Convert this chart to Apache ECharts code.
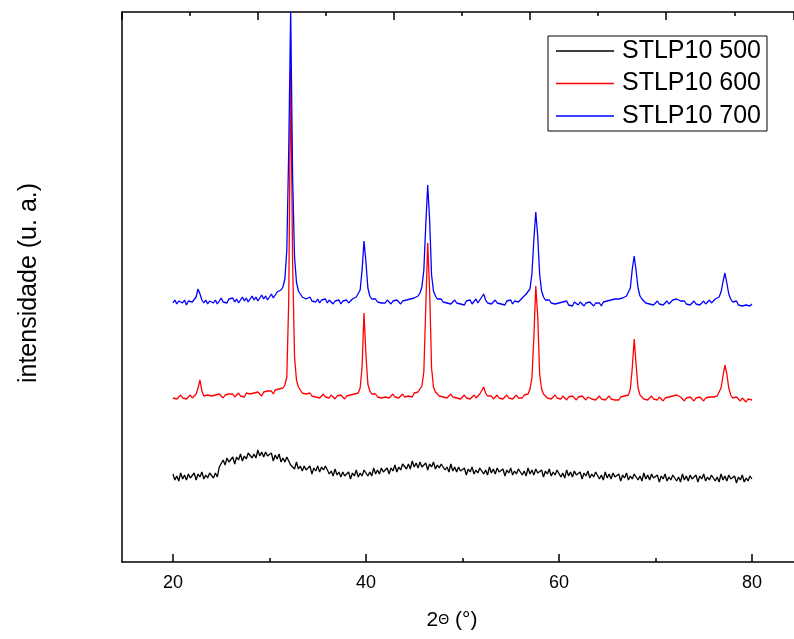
<!DOCTYPE html>
<html>
<head>
<meta charset="utf-8">
<script src="https://cdn.jsdelivr.net/npm/echarts@6/dist/echarts.min.js"></script>
<style>html,body{margin:0;padding:0;background:#fff}#chart{width:794px;height:639px}</style>
</head>
<body>
<div id="chart"></div>
<script>
// 2θ angles (degrees)
const twoTheta = [
20.0,20.2,20.4,20.6,20.8,21.0,21.2,21.4,21.6,21.8,
22.0,22.2,22.4,22.6,22.8,23.0,23.2,23.4,23.6,23.8,
24.0,24.2,24.4,24.6,24.8,25.0,25.2,25.4,25.6,25.8,
26.0,26.2,26.4,26.6,26.8,27.0,27.2,27.4,27.6,27.8,
28.0,28.2,28.4,28.6,28.8,29.0,29.2,29.4,29.6,29.8,
30.0,30.2,30.4,30.6,30.8,31.0,31.2,31.4,31.6,31.8,
32.0,32.2,32.4,32.6,32.8,33.0,33.2,33.4,33.6,33.8,
34.0,34.2,34.4,34.6,34.8,35.0,35.2,35.4,35.6,35.8,
36.0,36.2,36.4,36.6,36.8,37.0,37.2,37.4,37.6,37.8,
38.0,38.2,38.4,38.6,38.8,39.0,39.2,39.4,39.6,39.8,
40.0,40.2,40.4,40.6,40.8,41.0,41.2,41.4,41.6,41.8,
42.0,42.2,42.4,42.6,42.8,43.0,43.2,43.4,43.6,43.8,
44.0,44.2,44.4,44.6,44.8,45.0,45.2,45.4,45.6,45.8,
46.0,46.2,46.4,46.6,46.8,47.0,47.2,47.4,47.6,47.8,
48.0,48.2,48.4,48.6,48.8,49.0,49.2,49.4,49.6,49.8,
50.0,50.2,50.4,50.6,50.8,51.0,51.2,51.4,51.6,51.8,
52.0,52.2,52.4,52.6,52.8,53.0,53.2,53.4,53.6,53.8,
54.0,54.2,54.4,54.6,54.8,55.0,55.2,55.4,55.6,55.8,
56.0,56.2,56.4,56.6,56.8,57.0,57.2,57.4,57.6,57.8,
58.0,58.2,58.4,58.6,58.8,59.0,59.2,59.4,59.6,59.8,
60.0,60.2,60.4,60.6,60.8,61.0,61.2,61.4,61.6,61.8,
62.0,62.2,62.4,62.6,62.8,63.0,63.2,63.4,63.6,63.8,
64.0,64.2,64.4,64.6,64.8,65.0,65.2,65.4,65.6,65.8,
66.0,66.2,66.4,66.6,66.8,67.0,67.2,67.4,67.6,67.8,
68.0,68.2,68.4,68.6,68.8,69.0,69.2,69.4,69.6,69.8,
70.0,70.2,70.4,70.6,70.8,71.0,71.2,71.4,71.6,71.8,
72.0,72.2,72.4,72.6,72.8,73.0,73.2,73.4,73.6,73.8,
74.0,74.2,74.4,74.6,74.8,75.0,75.2,75.4,75.6,75.8,
76.0,76.2,76.4,76.6,76.8,77.0,77.2,77.4,77.6,77.8,
78.0,78.2,78.4,78.6,78.8,79.0,79.2,79.4,79.6,79.8,
80.0];

// STLP10 500 (black)
const int500 = [
88,82,86,81,89,83,87,82,88,84,
84,89,82,88,85,90,83,87,84,89,
90,84,89,85,95,93,102,97,104,100,
99,105,98,105,102,108,101,106,103,109,
109,104,108,104,112,106,110,105,110,106,
104,109,101,107,103,108,100,104,100,105,
104,97,99,93,100,93,96,91,96,92,
91,96,88,94,91,96,90,95,92,96,
95,88,91,86,93,87,90,85,90,86,
85,90,83,89,86,92,85,89,86,92,
92,86,90,86,94,88,92,88,94,90,
89,94,88,94,91,97,90,95,92,98,
99,93,98,93,101,95,99,94,100,95,
94,99,92,98,95,100,93,97,94,98,
98,92,95,90,98,91,95,90,95,91,
89,94,87,93,90,95,88,92,89,94,
94,88,92,87,95,89,93,88,94,90,
88,93,86,92,89,94,87,91,88,93,
93,87,91,86,94,88,92,87,93,89,
87,92,85,91,88,93,86,90,87,92,
91,85,89,84,92,86,90,85,91,87,
85,90,83,89,86,91,84,88,85,90,
89,83,87,82,90,84,88,83,89,85,
83,88,81,87,84,89,82,86,83,88,
88,82,86,81,89,83,87,82,88,84,
82,87,80,86,83,88,81,85,82,87,
87,81,85,80,88,82,86,81,87,83,
82,87,80,86,83,88,81,85,82,87,
87,81,85,80,88,82,86,81,87,83,
81,86,79,85,82,87,80,84,81,86,
83];

// STLP10 600 (red)
const int600 = [
164,166,163,165,167,164,166,163,165,167,
164,166,168,174,182,171,166,164,167,165,
166,164,167,165,168,166,164,167,165,168,
166,168,165,167,169,166,168,165,169,167,
168,166,169,167,170,168,166,170,168,171,
169,171,168,172,170,173,171,174,177,185,
262,495,300,205,182,175,172,169,171,168,
167,169,166,168,165,167,164,166,168,165,
166,164,167,165,163,166,164,167,165,163,
166,164,167,165,168,166,169,174,195,249,
207,178,171,168,166,168,165,167,164,166,
165,167,164,166,168,165,167,164,166,168,
165,167,166,168,165,169,167,170,172,176,
190,255,319,272,194,175,170,168,166,168,
165,167,164,166,168,165,167,164,166,163,
165,167,164,166,163,165,167,164,166,168,
170,175,169,166,164,166,163,165,167,164,
166,163,165,167,164,166,163,165,167,164,
166,164,167,165,168,173,184,224,276,246,
188,173,168,166,164,166,163,165,167,164,
165,163,166,164,162,165,163,166,164,162,
165,163,166,164,162,165,167,163,165,162,
164,166,163,165,162,164,166,163,165,162,
164,162,165,163,166,164,167,173,194,223,
197,174,167,165,163,165,162,164,166,163,
164,162,165,163,161,164,162,165,163,166,
164,167,169,165,163,161,164,162,165,163,
161,164,162,165,163,161,164,162,165,163,
165,163,166,168,174,186,197,188,174,167,
164,162,165,163,161,164,162,160,163,161,
162];

// STLP10 700 (blue)
const int700 = [
259,262,258,261,263,259,262,257,261,263,
260,262,265,273,268,262,259,262,258,261,
263,259,262,258,261,264,260,262,259,263,
261,264,260,263,259,262,265,261,264,260,
263,266,262,265,261,264,267,263,266,262,
265,268,264,267,270,268,272,275,283,312,
412,552,385,305,280,271,268,265,267,263,
262,265,261,263,260,263,259,262,260,263,
259,262,260,258,261,259,262,258,261,259,
262,259,261,263,262,265,266,272,292,321,
300,274,266,263,261,263,260,262,259,261,
259,262,260,258,261,259,262,260,258,261,
259,262,260,263,261,264,263,266,269,275,
292,337,377,342,287,271,266,263,261,263,
260,262,259,261,258,260,262,259,261,258,
260,257,261,259,262,258,260,263,259,262,
264,268,262,259,261,258,260,262,259,261,
258,260,257,261,259,262,258,261,263,260,
262,264,263,268,267,273,288,322,350,326,
288,271,265,262,260,262,259,261,258,260,
259,257,260,258,261,257,259,256,260,258,
257,260,258,256,259,257,260,258,256,259,
257,259,256,260,258,261,259,262,260,263,
261,263,262,264,263,266,267,274,293,306,
291,274,266,263,261,259,261,258,260,257,
259,261,258,260,257,259,261,258,260,262,
260,263,263,261,259,261,258,260,257,259,
261,258,260,257,259,261,258,260,262,259,
261,263,262,265,270,280,289,279,268,263,
260,258,261,257,259,256,258,257,259,256,
258];

const seriesNames = ['STLP10 500', 'STLP10 600', 'STLP10 700'];
const seriesColors = ['#000000', '#ff0000', '#0000ff'];
const xMajorLabels = [20, 40, 60, 80];
const xMinorTicks = [30, 50, 70];

const FONT = "'Liberation Sans', Arial, sans-serif";
const pair = (arr) => twoTheta.map((t, i) => [t, arr[i]]);
const allData = [int500, int600, int700];

const X_MIN = 14.72, X_MAX = 84.36;

const chart = echarts.init(document.getElementById('chart'), null, { renderer: 'canvas' });
const axisLine = { show: true, lineStyle: { color: '#000', width: 1.5 } };

chart.setOption({
  animation: false,
  backgroundColor: '#fff',
  grid: { left: 122, top: 12, right: 0, height: 550, containLabel: false },
  legend: {
    left: 548, top: 36,
    orient: 'vertical',
    data: seriesNames,
    icon: 'rect',
    itemWidth: 58, itemHeight: 1.5, itemGap: 7.5,
    padding: [2.5, 6, 2.5, 8],
    borderColor: '#000', borderWidth: 1,
    backgroundColor: '#fff',
    textStyle: { fontFamily: FONT, fontSize: 25, lineHeight: 25, color: '#000', padding: [0, 0, 0, 3] }
  },
  xAxis: [
    {
      type: 'value', position: 'bottom', min: X_MIN, max: X_MAX,
      name: '2{t|Θ} (°)', nameLocation: 'middle', nameGap: 48,
      nameTextStyle: {
        fontFamily: FONT, fontSize: 21, color: '#000', padding: [0, 12, 0, 0],
        rich: { t: { fontFamily: FONT, fontSize: 14, color: '#000' } }
      },
      axisLine: axisLine,
      axisTick: { show: true, inside: true, length: 8, lineStyle: { color: '#000', width: 1.5 }, customValues: xMajorLabels },
      axisLabel: { show: true, customValues: xMajorLabels, margin: 12, fontFamily: FONT, fontSize: 18, color: '#000' },
      splitLine: { show: false }
    },
    {
      type: 'value', position: 'bottom', min: X_MIN, max: X_MAX,
      axisLine: { show: false },
      axisTick: { show: true, inside: true, length: 4, lineStyle: { color: '#000', width: 1.5 }, customValues: xMinorTicks },
      axisLabel: { show: false },
      splitLine: { show: false }
    },
    {
      type: 'value', position: 'top', min: X_MIN, max: X_MAX, interval: 14.1,
      axisLine: axisLine,
      axisTick: { show: true, inside: true, length: 8, lineStyle: { color: '#000', width: 1.5 } },
      minorTick: { show: true, splitNumber: 2, length: 4, lineStyle: { color: '#000', width: 1.5 } },
      axisLabel: { show: false },
      splitLine: { show: false }
    }
  ],
  yAxis: {
    type: 'value', min: 0, max: 550,
    name: 'intensidade (u. a.)', nameLocation: 'middle', nameGap: 80, nameRotate: 90,
    nameTextStyle: { fontFamily: FONT, fontSize: 25, color: '#000', padding: [0, 0, 0, 8] },
    axisLine: axisLine,
    axisTick: { show: false },
    axisLabel: { show: false },
    splitLine: { show: false }
  },
  series: seriesNames.map((name, k) => ({
    name: name,
    type: 'line',
    xAxisIndex: 0,
    data: pair(allData[k]),
    symbol: 'none',
    showSymbol: false,
    clip: true,
    lineStyle: { color: seriesColors[k], width: 1.3 },
    itemStyle: { color: seriesColors[k] },
    z: 2 + k
  }))
});
</script>
</body>
</html>
